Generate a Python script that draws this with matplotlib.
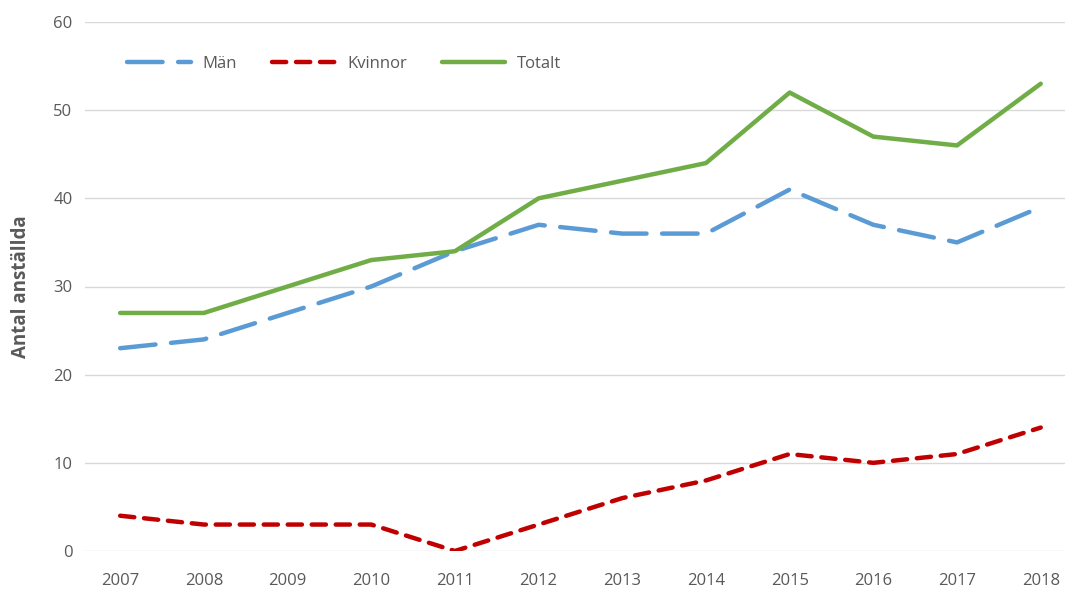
import matplotlib
matplotlib.use('Agg')
import matplotlib.pyplot as plt

# data
years = [2007, 2008, 2009, 2010, 2011, 2012, 2013, 2014, 2015, 2016, 2017, 2018]
man = [23, 24, 27, 30, 34, 37, 36, 36, 41, 37, 35, 39]
kvinnor = [4, 3, 3, 3, 0, 3, 6, 8, 11, 10, 11, 14]
totalt = [27, 27, 30, 33, 34, 40, 42, 44, 52, 47, 46, 53]

plt.rcParams['font.family'] = ['Open Sans', 'DejaVu Sans']
txt = '#595959'

fig = plt.figure(figsize=(10.75, 5.94), dpi=100)
ax = fig.add_axes([85 / 1075, 1 - 551 / 594, 980 / 1075, 529 / 594])

lw = 3.2
ax.plot(years, man, color='#5B9BD5', lw=lw, dashes=(8, 3.5),
        dash_capstyle='round', solid_joinstyle='round', label='Män', zorder=3)
ax.plot(years, kvinnor, color='#C00000', lw=lw, dashes=(3.2, 2.2),
        dash_capstyle='round', solid_joinstyle='round', label='Kvinnor', zorder=3)
ax.plot(years, totalt, color='#70AD47', lw=lw, solid_capstyle='round',
        solid_joinstyle='round', label='Totalt', zorder=3)

ax.set_ylim(0, 60)
ax.set_yticks(range(0, 61, 10))
ax.set_xlim(2006.58, 2018.29)
ax.set_xticks(years)
ax.grid(axis='y', color='#D9D9D9', lw=1)
ax.set_axisbelow(True)
for s in ax.spines.values():
    s.set_visible(False)
ax.tick_params(length=0, labelsize=12, colors=txt, pad=16)
ax.tick_params(axis='y', pad=9)
ax.set_ylabel('Antal anställda', fontsize=13.5, fontweight='bold', color=txt, labelpad=16)

ax.legend(loc='upper left', bbox_to_anchor=(0.028, 0.965), ncol=3, frameon=False,
          fontsize=12, labelcolor=txt, handlelength=3.8, columnspacing=2.1,
          handletextpad=0.7)

fig.savefig('out.png', dpi=100)
